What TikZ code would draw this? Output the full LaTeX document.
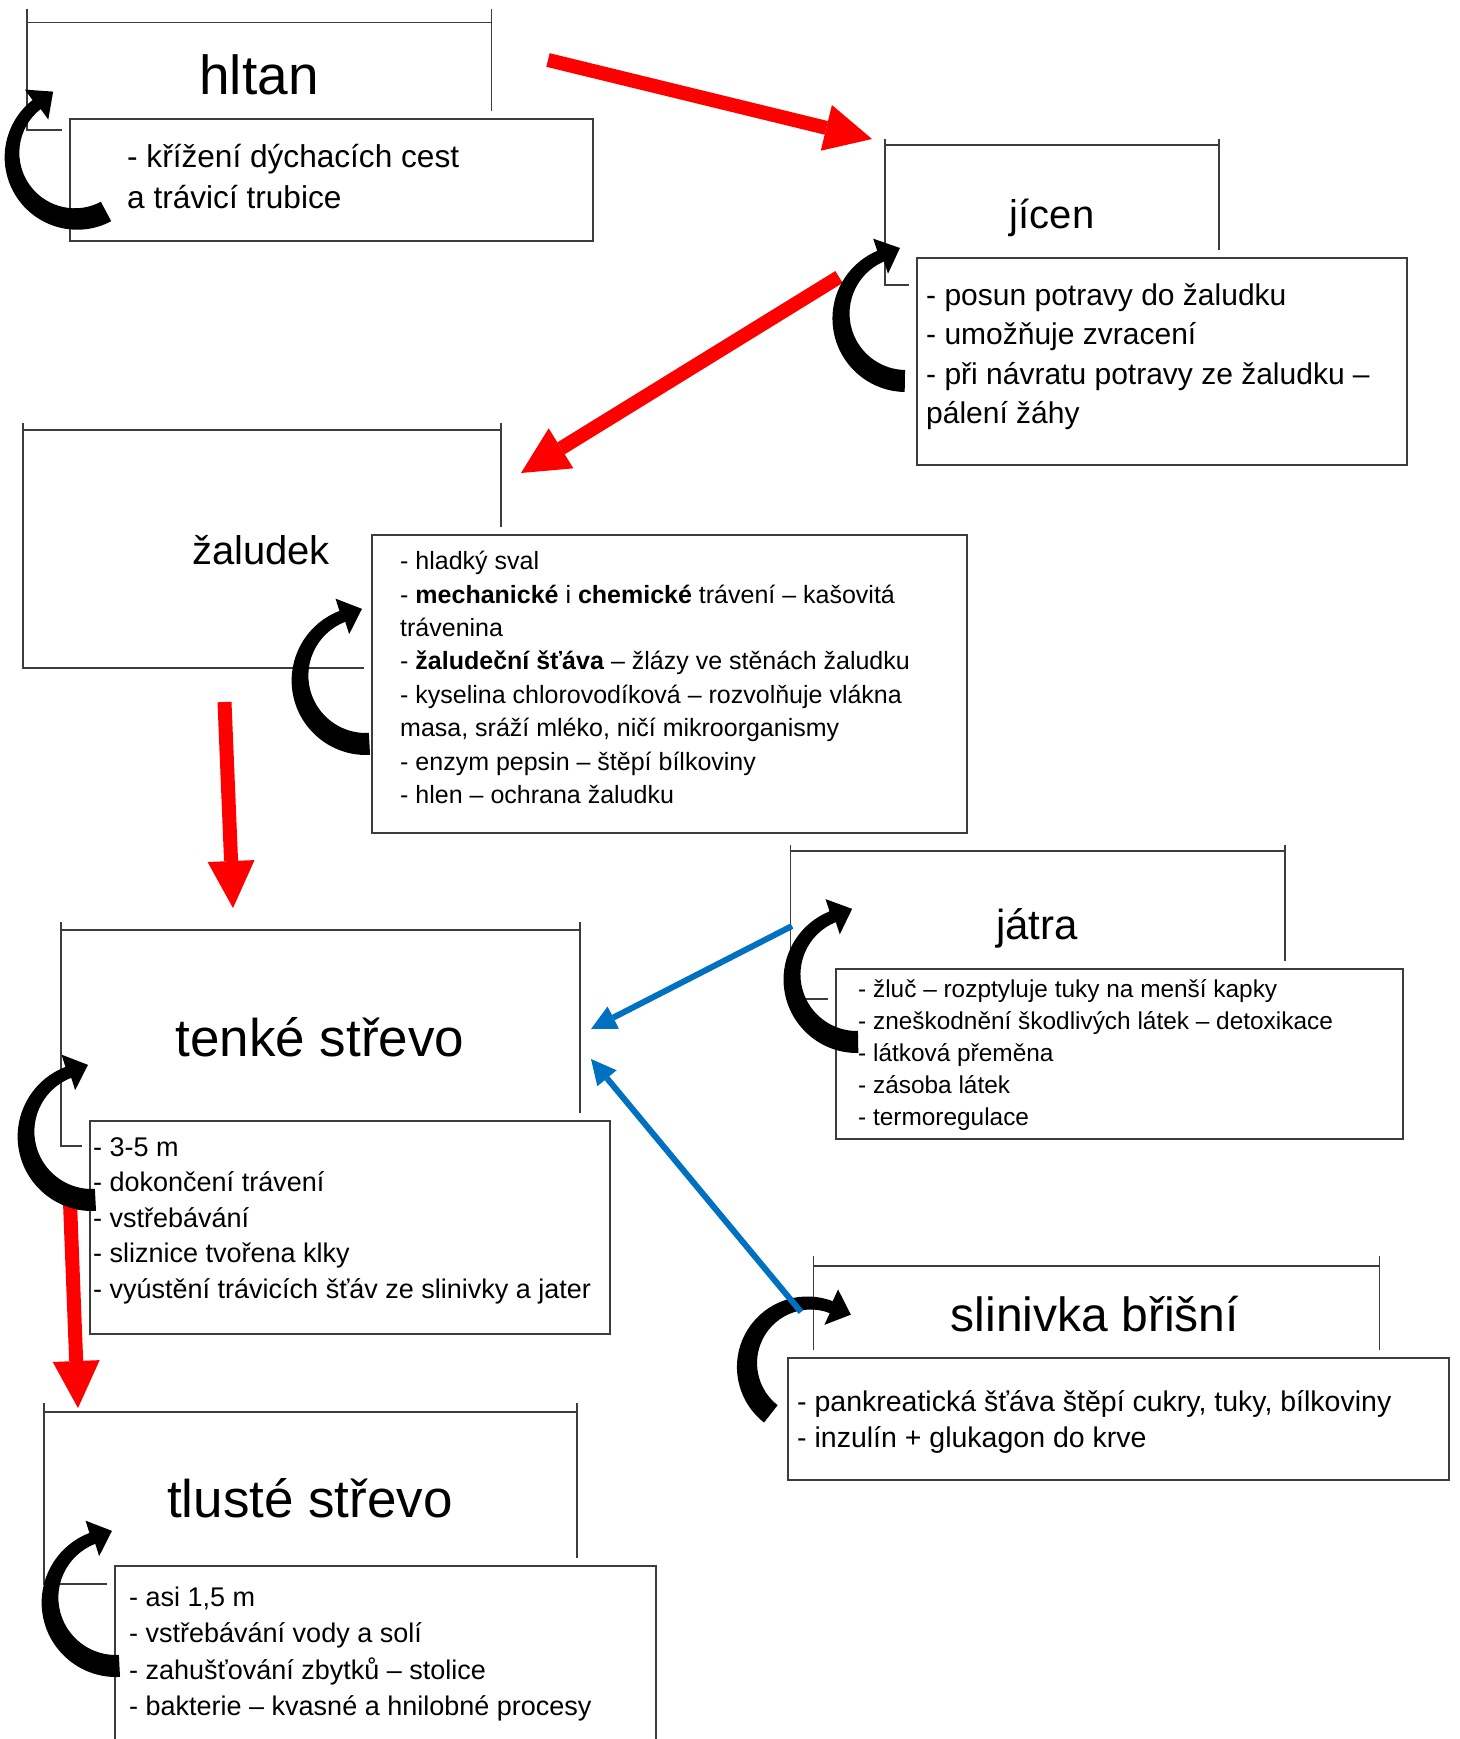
\documentclass[tikz,border=0pt]{standalone}
\usepackage{fontspec}
\setmainfont{Liberation Sans}
\usetikzlibrary{arrows.meta,calc,positioning}
\definecolor{framegray}{HTML}{3C3C3C}
\definecolor{flowred}{HTML}{FF0000}
\definecolor{flowblue}{HTML}{0070C0}
\tikzset{
    frameline/.style={draw=framegray,line width=1.5pt},
    infobox/.style={draw=framegray,line width=2pt,fill=white,anchor=north west,inner sep=0pt,
        preaction={draw=white,line width=16pt}},
    bodytext/.style={anchor=north west,inner sep=0pt,align=left},
    organ/.style={anchor=base,inner sep=0pt},
    redflow/.style={draw=flowred,line width=14pt,-{Triangle[length=47pt,width=47pt,line width=0pt]}},
    blueflow/.style={draw=flowblue,line width=6pt,-{Triangle[length=25pt,width=25pt,line width=0pt]}},
    loopflow/.style={fill=black}
}

\begin{document}
\begin{tikzpicture}[x=1pt,y=1pt]
  \useasboundingbox (0,0) rectangle (1459,-1739);
  \clip (0,0) rectangle (1459,-1739);

  \foreach \xa/\xb/\ya/\yb/\ext in {27/491.5/22.7/130/14, 885/1219/145/285/6,
      23/501/430/668/7, 790.5/1285/851/999/6, 61/580/930/1146/8,
      813.7/1379.5/1266/1420/10, 44/577/1412/1584/9}{
    \draw[frameline] (\xa,-\ya+\ext) -- (\xa,-\yb) -- (\xb,-\yb) -- (\xb,-\ya+\ext);
    \draw[frameline] (\xa,-\ya) -- (\xb,-\ya);
  }

  \node[infobox,minimum width=523pt,minimum height=122pt] (hltanbox) at (69,-118) {};
  \node[infobox,minimum width=490pt,minimum height=207pt] (jicenbox) at (916,-257) {};
  \node[infobox,minimum width=595pt,minimum height=298pt] (zaludekbox) at (371,-534) {};
  \node[infobox,minimum width=567pt,minimum height=170pt] (jatrabox) at (835,-968) {};
  \node[infobox,minimum width=520pt,minimum height=213pt] (tenkebox) at (89,-1120) {};
  \node[infobox,minimum width=661pt,minimum height=122pt] (slinivkabox) at (787,-1357) {};
  \node[infobox,minimum width=541pt,minimum height=200pt] (tlustebox) at (114,-1565) {};

  \node[organ,font=\fontsize{55}{60}\selectfont] (hltan) at (259,-95) {hltan};
  \node[organ,font=\fontsize{40}{46}\selectfont] (jicen) at (1052,-228) {jícen};
  \node[organ,font=\fontsize{40}{46}\selectfont] (zaludek) at (261,-564) {žaludek};
  \node[organ,font=\fontsize{42}{48}\selectfont] (jatra) at (1037,-939) {játra};
  \node[organ,font=\fontsize{53}{60}\selectfont] (tenke) at (320,-1056) {tenké střevo};
  \node[organ,font=\fontsize{48}{54}\selectfont] (slinivka) at (1095,-1331) {slinivka břišní};
  \node[organ,font=\fontsize{53}{60}\selectfont] (tluste) at (310,-1517) {tlusté střevo};

  \node[bodytext,font=\fontsize{31.6}{41}\selectfont,below right=26pt and 58pt of hltanbox.north west] (hltantext)
    {- křížení dýchacích cest\\a trávicí trubice};
  \node[bodytext,font=\fontsize{30}{39.5}\selectfont,below right=26pt and 10pt of jicenbox.north west] (jicentext)
    {- posun potravy do žaludku\\- umožňuje zvracení\\- při návratu potravy ze žaludku –\\pálení žáhy};
  \node[bodytext,font=\fontsize{25}{33.4}\selectfont,below right=17pt and 29pt of zaludekbox.north west] (zaludektext)
    {- hladký sval\\- \textbf{mechanické} i \textbf{chemické} trávení – kašovitá\\trávenina\\
     - \textbf{žaludeční šťáva} – žlázy ve stěnách žaludku\\- kyselina chlorovodíková – rozvolňuje vlákna\\
     masa, sráží mléko, ničí mikroorganismy\\- enzym pepsin – štěpí bílkoviny\\- hlen – ochrana žaludku};
  \node[bodytext,font=\fontsize{24.4}{32.2}\selectfont,below right=11pt and 23pt of jatrabox.north west] (jatratext)
    {- žluč – rozptyluje tuky na menší kapky\\- zneškodnění škodlivých látek – detoxikace\\
     - látková přeměna\\- zásoba látek\\- termoregulace};
  \node[bodytext,font=\fontsize{27}{35.6}\selectfont,below right=17pt and 4pt of tenkebox.north west] (tenketext)
    {- 3-5 m\\- dokončení trávení\\- vstřebávání\\- sliznice tvořena klky\\
     - vyústění trávicích šťáv ze slinivky a jater};
  \node[bodytext,font=\fontsize{28.5}{36}\selectfont,below right=33pt and 10pt of slinivkabox.north west] (slinivkatext)
    {- pankreatická šťáva štěpí cukry, tuky, bílkoviny\\- inzulín + glukagon do krve};
  \node[bodytext,font=\fontsize{27}{36.2}\selectfont,below right=22pt and 15pt of tlustebox.north west] (tlustetext)
    {- asi 1,5 m\\- vstřebávání vody a solí\\- zahušťování zbytků – stolice\\- bakterie – kvasné a hnilobné procesy};

  \coordinate (hltanout) at (548,-60);
  \coordinate (jicenin) at (872,-139);
  \coordinate (jicenout) at (839,-277);
  \coordinate (zaludekin) at (521,-473);
  \coordinate (zaludekout) at (224.5,-702);
  \coordinate (tenkein) at (233,-908);
  \coordinate (tenkeout) at (70,-1202);
  \coordinate (tlustein) at (78,-1408);
  \draw[redflow] (hltanout) -- (jicenin);
  \draw[redflow] (jicenout) -- (zaludekin);
  \draw[redflow] (zaludekout) -- (tenkein);
  \draw[redflow] (tenkeout) -- (tlustein);

  \foreach \cx/\cy/\r/\a/\b in {76/-155/64/-62/-232, 906/-316/65/-91/-247,
      366/-678/66/-87/-249, 857/-977/65/-89/-248, 92/-1134/66/-87/-249,
      809/-1365/62/232/69, 116/-1600/66/-87/-249}{
    \pgfmathsetmacro{\ro}{\r+8.5}
    \pgfmathsetmacro{\ri}{\r-8.5}
    \pgfmathsetmacro{\rw}{\r+19}
    \pgfmathsetmacro{\rv}{\r-19}
    \pgfmathsetmacro{\tang}{\b-90}
    \fill[loopflow] ($(\cx,\cy)+(\a:2.5)+(\a:\ro)$) arc[start angle=\a,end angle=\b,radius=\ro]
      -- ($(\cx,\cy)+(\b:\rw)$) -- ($(\cx,\cy)+(\b:\r)+(\tang:21)$) -- ($(\cx,\cy)+(\b:\rv)$)
      -- ($(\cx,\cy)-(\a:2.5)+(\b:\ri)$) arc[start angle=\b,end angle=\a,radius=\ri] -- cycle;
  }

  \coordinate (jatraout) at (792,-926);
  \coordinate (tenkejatra) at (591,-1029);
  \coordinate (slinivkaout) at (801,-1312);
  \coordinate (tenkeslinivka) at (591,-1059);
  \draw[blueflow] (jatraout) -- (tenkejatra);
  \draw[blueflow] (slinivkaout) -- (tenkeslinivka);
\end{tikzpicture}
\end{document}
